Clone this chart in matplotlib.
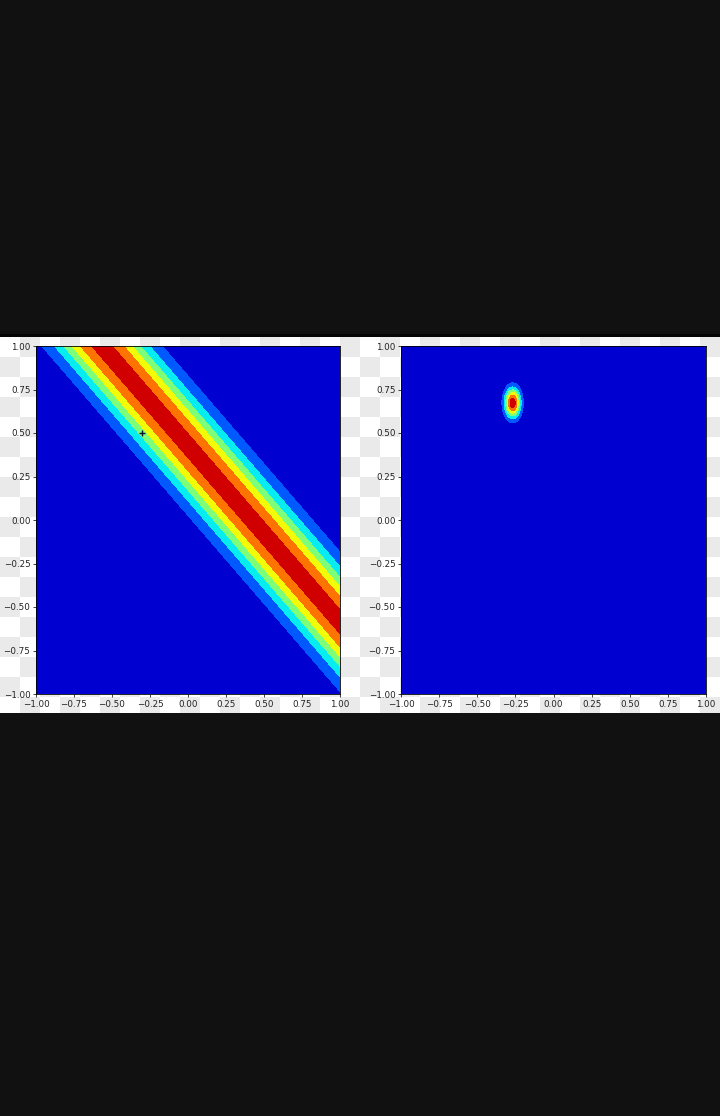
import numpy as np
import matplotlib
matplotlib.use("Agg")
import matplotlib.pyplot as plt

# ---- data / parameters ----
tick_values = [-1.00, -0.75, -0.50, -0.25, 0.00, 0.25, 0.50, 0.75, 1.00]
tick_labels = ["\u22121.00", "\u22120.75", "\u22120.50", "\u22120.25", "0.00", "0.25", "0.50", "0.75", "1.00"]

# left panel: likelihood ridge  w0 + a*w1 = t
ridge_a = 0.988
ridge_t = 0.422
ridge_sigma = 0.206
ridge_peak = 0.95
true_w = [-0.30, 0.50]            # the "+" marker

# right panel: posterior blob
post_mean = [-0.268, 0.673]
post_sigma = [0.036, 0.059]
post_peak = 1.0

levels = [0.0, 0.15, 0.30, 0.45, 0.60, 0.75, 0.90, 1.05]

W = 720
H = 1116
fig = plt.figure(figsize=(W / 100, H / 100), dpi=100)
fig.patch.set_facecolor("#111111")

# chart strip with a transparency checkerboard
strip_top = 337
strip_bot = 713
bg = fig.add_axes([0, (H - strip_bot) / H, 1, (strip_bot - strip_top) / H])
sq = 20
nx = W // sq + 1
ny = (strip_bot - strip_top) // sq + 1
yy, xx = np.indices((ny, nx))
checker = np.where((xx + yy) % 2 == 1, 0.915, 1.0)
bg.imshow(checker, cmap="gray", vmin=0, vmax=1, extent=[0, nx * sq, ny * sq, 0],
          interpolation="nearest", aspect="auto")
bg.set_xlim(0, W)
bg.set_ylim(strip_bot - strip_top, 0)
bg.axis("off")

# thin dark line above the strip
line_ax = fig.add_axes([0, (H - strip_top) / H, 1, 3 / H])
line_ax.set_facecolor("#050505")
line_ax.set_xticks([]); line_ax.set_yticks([])
for s in line_ax.spines.values():
    s.set_visible(False)

g = np.linspace(-1, 1, 400)
w0, w1 = np.meshgrid(g, g)
Z_left = ridge_peak * np.exp(-((w0 + ridge_a * w1 - ridge_t) ** 2) / (2 * ridge_sigma ** 2))
Z_right = post_peak * np.exp(-0.5 * (((w0 - post_mean[0]) / post_sigma[0]) ** 2 +
                                     ((w1 - post_mean[1]) / post_sigma[1]) ** 2))

ax_bottom = (H - 694) / H
ax_height = 348 / H
axL = fig.add_axes([36 / W, ax_bottom, 304 / W, ax_height])
axR = fig.add_axes([401 / W, ax_bottom, 305 / W, ax_height])

axL.contourf(w0, w1, Z_left, levels=levels, cmap="jet")
axL.plot([true_w[0]], [true_w[1]], marker="+", color="#101030", markersize=5, mew=1.0)
axR.contourf(w0, w1, Z_right, levels=levels, cmap="jet")

for ax in (axL, axR):
    ax.set_xlim(-1, 1)
    ax.set_ylim(-1, 1)
    ax.set_xticks(tick_values)
    ax.set_yticks(tick_values)
    ax.set_xticklabels(tick_labels)
    ax.set_yticklabels(tick_labels)
    ax.tick_params(labelsize=6.3, length=2.5, width=0.6, pad=1.5, colors="#222222")
    for s in ax.spines.values():
        s.set_linewidth(0.6)

fig.savefig("out.png", dpi=100, facecolor=fig.get_facecolor())
